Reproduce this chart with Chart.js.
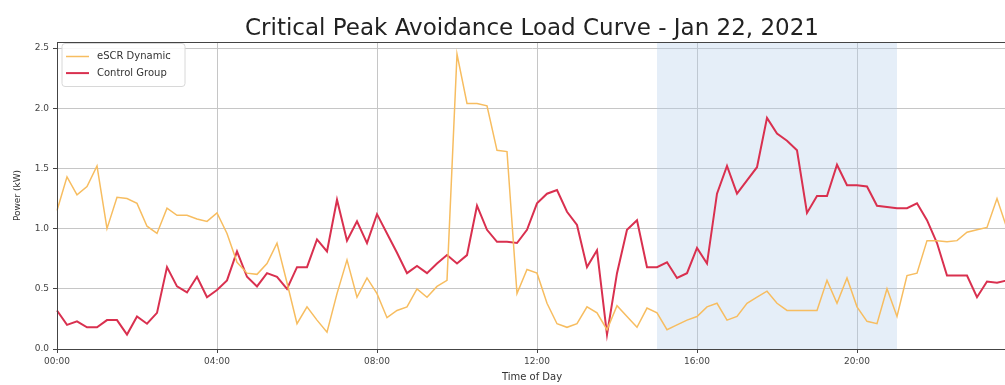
<!DOCTYPE html>
<html>
<head>
<meta charset="utf-8">
<script src="https://cdn.jsdelivr.net/npm/chart.js@4.4.0/dist/chart.umd.min.js"></script>
<style>
html, body { margin:0; padding:0; background:#fff; overflow:hidden; }
</style>
</head>
<body>
<canvas id="chart" width="1010" height="385"></canvas>
<script>
// 15-minute interval load readings, Jan 22 2021
const timeLabels = [];
for (let h = 0; h < 24; h++) {
    for (let m = 0; m < 60; m += 15) {
        timeLabels.push(String(h).padStart(2, '0') + ':' + String(m).padStart(2, '0'));
    }
}
const tickLabels = ['00:00', '04:00', '08:00', '12:00', '16:00', '20:00'];
const yTicks = [0, 0.5, 1.0, 1.5, 2.0, 2.5];
const peakWindow = ['15:00', '21:00'];
const chartTitle = 'Critical Peak Avoidance Load Curve - Jan 22, 2021';

const escrDynamic = [
    1.15, 1.43, 1.28, 1.35, 1.52, 1.00, 1.26, 1.25, 1.21, 1.02, 0.96, 1.17,
    1.11, 1.11, 1.08, 1.06, 1.13, 0.96, 0.72, 0.63, 0.62, 0.71, 0.88, 0.55,
    0.21, 0.35, 0.24, 0.14, 0.46, 0.74, 0.43, 0.59, 0.46, 0.26, 0.32, 0.35,
    0.50, 0.43, 0.52, 0.57, 2.45, 2.04, 2.04, 2.02, 1.65, 1.64, 0.46, 0.66,
    0.63, 0.38, 0.21, 0.18, 0.21, 0.35, 0.30, 0.16, 0.36, 0.27, 0.18, 0.34,
    0.30, 0.16, 0.20, 0.24, 0.27, 0.35, 0.38, 0.24, 0.27, 0.38, 0.43, 0.48,
    0.38, 0.32, 0.32, 0.32, 0.32, 0.57, 0.38, 0.59, 0.35, 0.23, 0.21, 0.50,
    0.27, 0.61, 0.63, 0.90, 0.90, 0.89, 0.90, 0.97, 0.99, 1.01, 1.25, 1.00
];
const controlGroup = [
    0.32, 0.20, 0.23, 0.18, 0.18, 0.24, 0.24, 0.12, 0.27, 0.21, 0.30, 0.68,
    0.52, 0.47, 0.60, 0.43, 0.49, 0.57, 0.81, 0.60, 0.52, 0.63, 0.60, 0.50,
    0.68, 0.68, 0.91, 0.81, 1.24, 0.90, 1.06, 0.88, 1.12, 0.96, 0.80, 0.63,
    0.69, 0.63, 0.71, 0.78, 0.71, 0.78, 1.19, 0.99, 0.89, 0.89, 0.88, 0.99,
    1.21, 1.29, 1.32, 1.14, 1.03, 0.68, 0.82, 0.12, 0.63, 0.99, 1.07, 0.68,
    0.68, 0.72, 0.59, 0.63, 0.84, 0.71, 1.29, 1.52, 1.29, 1.40, 1.51, 1.92,
    1.79, 1.73, 1.65, 1.13, 1.27, 1.27, 1.53, 1.36, 1.36, 1.35, 1.19, 1.18,
    1.17, 1.17, 1.21, 1.07, 0.88, 0.61, 0.61, 0.61, 0.43, 0.56, 0.55, 0.57
];

Chart.defaults.font.family = 'DejaVu Sans';
Chart.defaults.color = '#333';

// shaded critical peak window
const peakShade = {
    id: 'peakShade',
    beforeDatasetsDraw(chart) {
        const {ctx, chartArea, scales} = chart;
        const x0 = scales.x.getPixelForValue(timeLabels.indexOf(peakWindow[0]));
        const x1 = scales.x.getPixelForValue(timeLabels.indexOf(peakWindow[1]));
        ctx.save();
        ctx.fillStyle = 'rgba(176,203,235,0.33)';
        ctx.fillRect(x0, chartArea.top, x1 - x0, chartArea.bottom - chartArea.top);
        ctx.restore();
    }
};

// title centred over the axes, legend inside the plot, frame
const overlay = {
    id: 'overlay',
    afterDatasetsDraw(chart) {
        const {ctx, chartArea} = chart;
        ctx.save();
        ctx.fillStyle = '#222';
        ctx.font = '23px "DejaVu Sans"';
        ctx.textAlign = 'center';
        ctx.textBaseline = 'alphabetic';
        ctx.fillText(chartTitle, (chartArea.left + chartArea.right) / 2, 35);

        const bx = chartArea.left + 5, by = chartArea.top + 1.5;
        ctx.fillStyle = 'rgba(255,255,255,0.85)';
        ctx.strokeStyle = '#d8d8d8';
        ctx.lineWidth = 1;
        ctx.beginPath();
        ctx.roundRect(bx, by, 123, 43, 3);
        ctx.fill();
        ctx.stroke();
        ctx.font = '10px "DejaVu Sans"';
        ctx.textAlign = 'left';
        ctx.textBaseline = 'middle';
        chart.data.datasets.forEach((ds, i) => {
            const y = by + 13 + i * 16.6;
            ctx.strokeStyle = ds.borderColor;
            ctx.lineWidth = ds.borderWidth;
            ctx.beginPath();
            ctx.moveTo(bx + 4, y);
            ctx.lineTo(bx + 27, y);
            ctx.stroke();
            ctx.fillStyle = '#333';
            ctx.fillText(ds.label, bx + 35, y);
        });
        ctx.strokeStyle = '#444';
        ctx.lineWidth = 1;
        ctx.strokeRect(chartArea.left + 0.5, chartArea.top + 0.5,
            chartArea.right - chartArea.left, chartArea.bottom - chartArea.top);
        ctx.restore();
    }
};

new Chart(document.getElementById('chart'), {
    type: 'line',
    data: {
        labels: timeLabels,
        datasets: [{
            label: 'eSCR Dynamic',
            data: escrDynamic,
            borderColor: '#f7bd60',
            borderWidth: 1.5,
            pointRadius: 0,
            tension: 0
        }, {
            label: 'Control Group',
            data: controlGroup,
            borderColor: '#d9304f',
            borderWidth: 2,
            pointRadius: 0,
            tension: 0
        }]
    },
    options: {
        responsive: false,
        animation: false,
        layout: {padding: {left: 0, right: 3, top: 42, bottom: 0}},
        plugins: {
            legend: {display: false},
            tooltip: {enabled: false},
            title: {display: false}
        },
        scales: {
            x: {
                offset: false,
                grid: {color: '#c6c6c6', tickColor: '#444', tickLength: 4},
                border: {color: '#444'},
                ticks: {
                    autoSkip: false,
                    maxRotation: 0,
                    padding: 3,
                    font: {size: 9},
                    color: '#444',
                    callback(v) {
                        const lab = timeLabels[v];
                        return tickLabels.includes(lab) ? lab : null;
                    }
                },
                title: {display: true, text: 'Time of Day', font: {size: 10}, color: '#333', padding: {top: 2, bottom: 2}},
                afterFit(scale) { scale.height = 36; }
            },
            y: {
                min: 0,
                max: 2.55,
                grid: {color: '#c6c6c6', tickColor: '#444', tickLength: 4},
                border: {color: '#444'},
                afterBuildTicks(scale) {
                    scale.ticks = yTicks.map(v => ({value: v}));
                },
                ticks: {
                    padding: 4,
                    font: {size: 9},
                    color: '#444',
                    callback: v => v.toFixed(1)
                },
                title: {display: true, text: 'Power (kW)', font: {size: 9}, color: '#333', padding: {top: 12, bottom: 0}},
                afterFit(scale) { scale.width = 57; }
            }
        }
    },
    plugins: [peakShade, overlay]
});
</script>
</body>
</html>
